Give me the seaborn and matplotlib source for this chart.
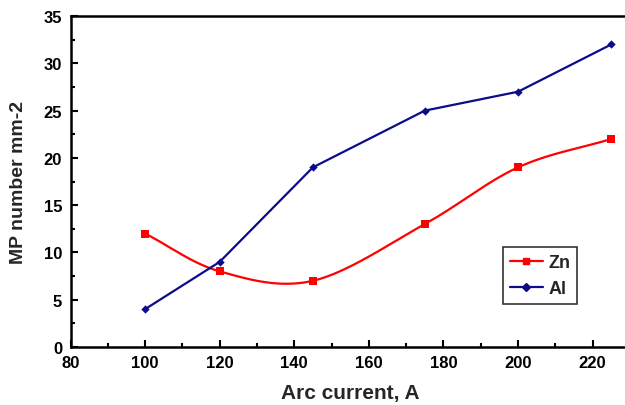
import numpy as np
import pandas as pd
import matplotlib
matplotlib.use("Agg")
import matplotlib.pyplot as plt
from matplotlib.lines import Line2D
from matplotlib.ticker import MultipleLocator
import seaborn as sns

# Arc current (A) and micro-particle density for each cathode material
arc_current = [100, 120, 145, 175, 200, 225]
zn_values = [12, 8, 7, 13, 19, 22]
al_values = [4, 9, 19, 25, 27, 32]

ZN_COLOR = "#ff0000"
AL_COLOR = "#0c0c8a"

sns.set_theme(style="ticks")
plt.rcParams["font.family"] = ["Liberation Sans", "DejaVu Sans"]
plt.rcParams["font.weight"] = "bold"


def smooth_curve(xs, ys, sx=3.733, sy=9.46, n=40):
    """Catmull-Rom spline through the points, evaluated in screen-like units."""
    px = np.asarray(xs, float) * sx
    py = np.asarray(ys, float) * sy
    pts = np.column_stack([px, py])
    # reflected phantom points at both ends
    pts = np.vstack([2 * pts[0] - pts[1], pts, 2 * pts[-1] - pts[-2]])
    out = []
    for i in range(1, len(pts) - 2):
        p0, p1, p2, p3 = pts[i - 1], pts[i], pts[i + 1], pts[i + 2]
        t = np.linspace(0, 1, n, endpoint=(i == len(pts) - 3))[:, None]
        seg = 0.5 * ((2 * p1) + (-p0 + p2) * t
                     + (2 * p0 - 5 * p1 + 4 * p2 - p3) * t ** 2
                     + (-p0 + 3 * p1 - 3 * p2 + p3) * t ** 3)
        out.append(seg)
    out = np.vstack(out)
    return out[:, 0] / sx, out[:, 1] / sy


fig = plt.figure(figsize=(6.25, 4.06), dpi=100)
ax = fig.add_axes([0.1128, 0.1429, 0.895, 0.815])

# Zn is drawn as a smoothed curve, Al as straight segments
series = [("Zn", zn_values, ZN_COLOR, "s", 30, True),
          ("Al", al_values, AL_COLOR, "D", 18, False)]
handles = []
for name, vals, color, marker, msize, smooth in series:
    if smooth:
        cx, cy = smooth_curve(arc_current, vals)
    else:
        cx, cy = arc_current, vals
    curve = pd.DataFrame({"x": cx, "y": cy})
    sns.lineplot(data=curve, x="x", y="y", ax=ax, color=color, linewidth=1.6,
                 sort=False, estimator=None)
    pts = pd.DataFrame({"x": arc_current, "y": vals})
    sns.scatterplot(data=pts, x="x", y="y", ax=ax, color=color, marker=marker,
                    s=msize, edgecolor=color, linewidth=0, zorder=5)
    handles.append(Line2D([], [], color=color, linewidth=1.6, marker=marker,
                          markersize=5 if marker == "s" else 4, label=name))

ax.set_xlim(80, 230)
ax.set_ylim(0, 35)
ax.xaxis.set_major_locator(MultipleLocator(20))
ax.xaxis.set_minor_locator(MultipleLocator(10))
ax.yaxis.set_major_locator(MultipleLocator(5))
ax.yaxis.set_minor_locator(MultipleLocator(2.5))
ax.tick_params(which="both", direction="in", width=1.5, colors="black",
               labelsize=12, pad=6)
ax.tick_params(which="major", length=5)
ax.tick_params(which="minor", length=3)
for lab in ax.get_xticklabels() + ax.get_yticklabels():
    lab.set_fontweight("bold")

for side in ["left", "bottom", "top"]:
    ax.spines[side].set_linewidth(1.8)
    ax.spines[side].set_color("black")
ax.spines["right"].set_visible(False)

ax.set_xlabel("Arc current, A", fontsize=15, fontweight="bold", labelpad=9)
ax.set_ylabel("MP number mm-2", fontsize=14, fontweight="bold", labelpad=12)

leg = ax.legend(handles=handles, loc="upper left",
                bbox_to_anchor=(503 / 625, 1 - 248 / 406),
                bbox_transform=fig.transFigure, frameon=True, fancybox=False,
                edgecolor="black", fontsize=13, handlelength=1.8,
                handletextpad=0.3, borderpad=0.4, labelspacing=0.5,
                borderaxespad=0)
leg.get_frame().set_linewidth(1.2)
for t in leg.get_texts():
    t.set_fontweight("bold")

fig.savefig("out.png", dpi=100)
